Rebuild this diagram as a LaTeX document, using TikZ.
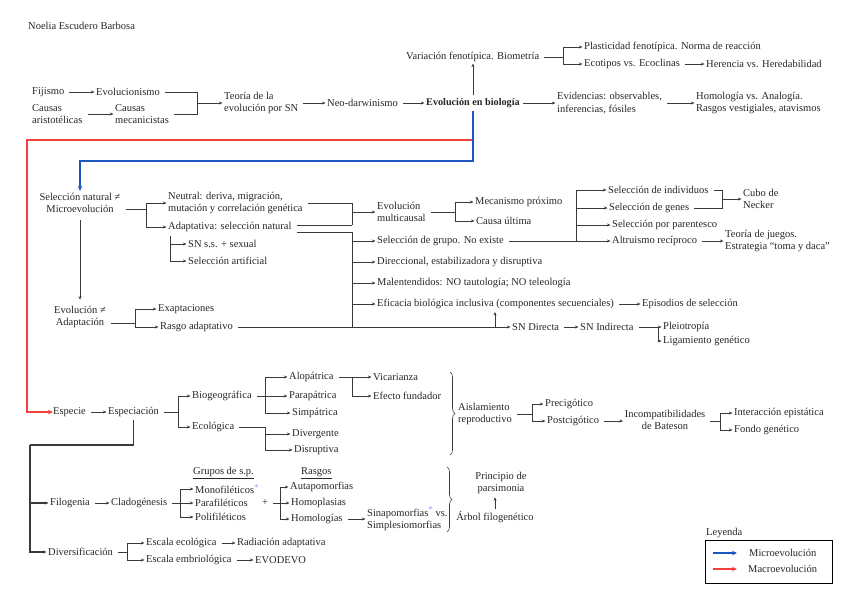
\documentclass[tikz,border=0pt]{standalone}
\usepackage{fontspec}
\setmainfont{Liberation Serif}
\usetikzlibrary{arrows.meta,decorations.pathreplacing,calc}
\definecolor{lc}{HTML}{3A3A3A}
\definecolor{txc}{HTML}{262626}
\definecolor{bl}{HTML}{1F55C0}
\definecolor{rd}{HTML}{F2403F}
\definecolor{stc}{HTML}{A98EF0}
\newcommand{\mystar}{\raisebox{3.5pt}{\fontsize{9}{9}\selectfont\textcolor{stc}{*}}}
\begin{document}
\begin{tikzpicture}[x=1pt,y=-1pt,
  t/.style={anchor=west,inner sep=0pt,text=txc,font=\fontsize{10.5}{12.6}\selectfont,align=left},
  tm/.style={t,anchor=center,align=center},
  ln/.style={draw=lc,line width=0.75pt},
  ar/.style={ln,-{Stealth[length=3.6pt,width=3pt]},shorten >=1.5pt},
  fs/.style={shorten <=5pt},
  lnk/.style={draw=lc,line width=1.1pt},
  blarr/.style={draw=bl,line width=1.5pt,-{Stealth[length=5pt,width=4.5pt]}},
  rdarr/.style={draw=rd,line width=1.5pt,-{Stealth[length=5pt,width=4.5pt]}},
  brc/.style={ln,line width=0.6pt,decorate,decoration={brace,amplitude=5pt}}
]
\useasboundingbox (0,0) rectangle (848,600);

% ---------- top ----------
\node[t] (title) at (28,26) {Noelia Escudero Barbosa};
\node[t] (fij) at (32,92) {Fijismo};
\node[t] (evol) at (96,92) {Evolucionismo};
\node[t] (caus) at (32,114) {Causas\\aristotélicas};
\node[t] (mec) at (115,114) {Causas\\mecanicistas};
\node[t] (teo) at (224,103) {Teoría de la\\evolución por SN};
\node[t] (neo) at (327,103) {Neo-darwinismo};
\node[t,font=\fontsize{10.2}{12}\selectfont\bfseries] (evb) at (426,103) {Evolución en biología};
\node[t] (var) at (406,57) {Variación fenotípica. Biometría};
\node[t] (pla) at (584,47) {Plasticidad fenotípica. Norma de reacción};
\node[t] (eco) at (584,64) {Ecotipos vs. Ecoclinas};
\node[t] (her) at (706,64) {Herencia vs. Heredabilidad};
\node[t] (evi) at (557,103) {Evidencias: observables,\\inferencias, fósiles};
\node[t] (hom) at (696,103) {Homología vs. Analogía.\\Rasgos vestigiales, atavismos};

\draw[ar,fs] (fij.east) -- (fij.east -| evol.west);
\draw[ar,fs] (caus.east) -- (caus.east -| mec.west);
\coordinate (bA) at (197,103);
\draw[ln,fs] (evol.east) -| (bA);
\draw[ln,fs] (mec.east) -| (bA);
\draw[ar] (bA) -- (teo.west);
\draw[ar,fs] (teo.east) -- (neo.west);
\draw[ar,fs] (neo.east) -- (evb.west);
\draw[ar,shorten <=3pt] (evb.north) -- (evb.north |- var.south);
\coordinate (bV) at (563,57);
\draw[ln,fs] (var.east) -- (bV);
\draw[ar] (bV) |- (pla.west);
\draw[ar] (bV) |- (eco.west);
\draw[ar,fs] (eco.east) -- (her.west);
\draw[ar,shorten <=3pt] (evb.east) -- (evi.west);
\draw[ar,fs] (evi.east) -- (hom.west);

% ---------- micro section ----------
\node[tm] (sel) at (80,203) {Selección natural ≠\\Microevolución};
\node[t] (neu) at (168,203) {Neutral: deriva, migración,\\mutación y correlación genética};
\node[t] (ada) at (168,227) {Adaptativa: selección natural};
\node[t] (sns) at (188,244) {SN s.s. + sexual};
\node[t] (sart) at (188,261) {Selección artificial};
\node[tm] (eva) at (80,317) {Evolución ≠\\Adaptación};
\node[t] (exa) at (158,309) {Exaptaciones};
\node[t] (ras) at (160,327) {Rasgo adaptativo};
\node[t] (mul) at (377,212) {Evolución\\multicausal};
\node[t] (mpr) at (475,202) {Mecanismo próximo};
\node[t] (cul) at (476,221) {Causa última};
\node[t] (sgr) at (377,241) {Selección de grupo. No existe};
\node[t] (dir) at (377,262) {Direccional, estabilizadora y disruptiva};
\node[t] (mal) at (377,283) {Malentendidos: NO tautología; NO teleología};
\node[t] (efi) at (377,304) {Eficacia biológica inclusiva (componentes secuenciales)};
\node[t] (epi) at (642,304) {Episodios de selección};
\node[t] (snd) at (512,327) {SN Directa};
\node[t] (sni) at (580,327) {SN Indirecta};
\node[t] (ple) at (663,327) {Pleiotropía};
\node[t] (lig) at (663,341) {Ligamiento genético};
\node[t] (sind) at (608,190) {Selección de individuos};
\node[t] (sgen) at (609,208) {Selección de genes};
\node[t] (spar) at (612,225) {Selección por parentesco};
\node[t] (alt) at (612,241) {Altruismo recíproco};
\node[t] (cub) at (743,199) {Cubo de\\Necker};
\node[t] (tju) at (725,241) {Teoría de juegos.\\Estrategia “toma y daca”};

\coordinate (bS) at (146,209);
\draw[ln,fs] ([yshift=-6pt]sel.east) -- (bS);
\draw[ar] (bS) |- (neu.west);
\draw[ar] (bS) |- (ada.west);
\coordinate (bSS) at (170,236);
\draw[ar] (bSS) |- (sns.west);
\draw[ar] (bSS) |- (sart.west);
\draw[ar,shorten <=7pt,shorten >=6pt] (sel.south) -- (eva.north);
\coordinate (bE) at (135,323);
\draw[ln,fs] ([yshift=-6pt]eva.east) -- (bE);
\draw[ar] (bE) |- (exa.west);
\draw[ar] (bE) |- (ras.west);
\draw[ar,fs] (ras.east) -- (snd.west);

\coordinate (bN1) at (352,225);
\draw[ln,fs] (neu.east) -| (bN1);
\draw[ln,fs] ([yshift=2pt]ada.east) -- (bN1);
\draw[ar] (bN1 |- mul.west) -- (mul.west);
\coordinate (bA1) at (352,232);
\coordinate (bA2) at (352,327);
\draw[ln,fs] ([yshift=-5pt]ada.east) -- (bA1) -- (bA2);
\draw[ar] (bA1 |- sgr.west) -- (sgr.west);
\draw[ar] (bA1 |- dir.west) -- (dir.west);
\draw[ar] (bA1 |- mal.west) -- (mal.west);
\draw[ar] (bA1 |- efi.west) -- (efi.west);
\coordinate (up) at (495,327);
\draw[ar,shorten >=3pt] (up) -- (up |- efi.south);

\coordinate (bM) at (455,212);
\draw[ln,fs] (mul.east) -- (bM);
\draw[ar] (bM) |- (mpr.west);
\draw[ar] (bM) |- (cul.west);
\coordinate (bG) at (576,241);
\draw[ln,fs] (sgr.east) -- (bG);
\draw[ar] (bG) |- (sind.west);
\draw[ar] (bG) |- (sgen.west);
\draw[ar] (bG) |- (spar.west);
\draw[ar] (bG) -- (alt.west);
\coordinate (bC) at (722,199);
\draw[ln,fs] (sind.east) -| (bC);
\draw[ln,fs] (sgen.east) -| (bC);
\draw[ar] (bC) -- (bC -| cub.west);
\draw[ar,fs] (alt.east) -- (alt.east -| tju.west);
\draw[ar,fs] (efi.east) -- (epi.west);
\draw[ar,fs] (snd.east) -- (sni.west);
\coordinate (bP) at (658,327);
\draw[ln,fs] (sni.east) -- (bP);
\draw[ar] (bP) |- (ple.west);
\draw[ar] (bP) |- (lig.west);

% ---------- macro section ----------
\node[t] (esp) at (53,412) {Especie};
\node[t] (espc) at (108,412) {Especiación};
\node[t] (bio) at (192,396) {Biogeográfica};
\node[t] (ecl) at (192,427) {Ecológica};
\node[t] (alo) at (289,377) {Alopátrica};
\node[t] (par) at (289,396) {Parapátrica};
\node[t] (sim) at (292,413) {Simpátrica};
\node[t] (dvg) at (292,434) {Divergente};
\node[t] (dsr) at (294,450) {Disruptiva};
\node[t] (vic) at (373,377) {Vicarianza};
\node[t] (efe) at (373,396) {Efecto fundador};
\node[t] (ais) at (458,414) {Aislamiento\\reproductivo};
\node[t] (pre) at (545,404) {Precigótico};
\node[t] (pos) at (547,421) {Postcigótico};
\node[tm] (inc) at (665,420) {Incompatibilidades\\de Bateson};
\node[t] (int) at (734,413) {Interacción epistática};
\node[t] (fon) at (734,430) {Fondo genético};

\draw[ar,fs] (esp.east) -- (espc.west);
\coordinate (bE1) at (178,412);
\draw[ln,fs] (espc.east) -- (bE1);
\draw[ar] (bE1) |- (bio.west);
\draw[ar] (bE1) |- (ecl.west);
\coordinate (bB) at (265,396);
\draw[ln,fs] (bio.east) -- (bB);
\draw[ar] (bB) |- (alo.west);
\draw[ar] (bB) -- (par.west);
\draw[ar] (bB) |- (sim.west);
\coordinate (bEc) at (265,427);
\draw[ln,fs] (ecl.east) -- (bEc);
\draw[ar] (bEc) |- (dvg.west);
\draw[ar] (bEc) |- (dsr.west);
\coordinate (bAl) at (352,377);
\draw[ln,fs] (alo.east) -- (bAl);
\draw[ar] (bAl) -- (vic.west);
\draw[ar] (bAl) |- (efe.west);
\coordinate (br1a) at (450,372);
\coordinate (br1b) at (450,455);
\draw[brc] (br1a) -- (br1b);
\coordinate (bAi) at (532,414);
\draw[ln,fs] (ais.east) -- (bAi);
\draw[ar] (bAi) |- (pre.west);
\draw[ar] (bAi) |- (pos.west);
\draw[ar,fs] (pos.east) -- (pos.east -| inc.west);
\coordinate (bI) at (720,421);
\draw[ln,fs] (inc.east |- bI) -- (bI);
\draw[ar] (bI) |- (int.west);
\draw[ar] (bI) |- (fon.west);

\node[t] (fil) at (50,503) {Filogenia};
\node[t] (cla) at (111,503) {Cladogénesis};
\node[t] (gru) at (193,473) {\underline{Grupos de s.p.}};
\node[t] (mon) at (195,489) {Monofiléticos\mystar};
\node[t] (pfi) at (195,503) {Parafiléticos};
\node[t] (pol) at (195,517) {Polifiléticos};
\node[t] (plu) at (262,503) {+};
\node[t] (rsg) at (301,473) {\underline{Rasgos}};
\node[t] (aut) at (290,487) {Autapomorfias};
\node[t] (hpl) at (291,503) {Homoplasias};
\node[t] (hlg) at (291,519) {Homologías};
\node[t] (sin) at (367,519) {Sinapomorfias\mystar{} vs.\\Simplesiomorfias};
\node[tm] (pri) at (501,483) {Principio de\\parsimonia};
\node[tm] (arb) at (495,517) {Árbol filogenético};
\node[t] (div) at (48,552) {Diversificación};
\node[t] (eec) at (146,543) {Escala ecológica};
\node[t] (rad) at (237,543) {Radiación adaptativa};
\node[t] (eem) at (146,560) {Escala embriológica};
\node[t] (evo) at (255,560) {EVODEVO};

\coordinate (k2) at (30,445);
\draw[lnk,shorten <=3pt] (espc.south) |- (k2);
\draw[lnk,-{Stealth[length=3.6pt,width=3pt]},shorten >=1.5pt] (k2) |- (fil.west);
\draw[lnk,-{Stealth[length=3.6pt,width=3pt]},shorten >=1.5pt] (k2) |- (div.west);
\draw[ar,fs] (fil.east) -- (cla.west);
\coordinate (bCl) at (180,503);
\draw[ln,fs] (cla.east) -- (bCl);
\draw[ar] (bCl) |- (mon.west);
\draw[ar] (bCl) -- (pfi.west);
\draw[ar] (bCl) |- (pol.west);
\coordinate (bR) at (280,503);
\draw[ln,fs] (plu.east) -- (bR);
\draw[ar] (bR) |- (aut.west);
\draw[ar] (bR) -- (hpl.west);
\draw[ar] (bR) |- (hlg.west);
\draw[ar,fs] (hlg.east) -- (hlg.east -| sin.west);
\coordinate (br2a) at (447,467);
\coordinate (br2b) at (447,532);
\draw[brc] (br2a) -- (br2b);
\draw[ar,shorten <=2pt,shorten >=3pt] (arb.north) -- (arb.north |- pri.south);
\coordinate (bD) at (127,552);
\draw[ln,fs] (div.east) -- (bD);
\draw[ar] (bD) |- (eec.west);
\draw[ar] (bD) |- (eem.west);
\draw[ar,fs] (eec.east) -- (rad.west);
\draw[ar,fs] (eem.east) -- (evo.west);

% ---------- coloured connectors ----------
\coordinate (rL) at (27,140);
\draw[rdarr] (evb.south |- rL) -- (rL) |- (esp.west);
\coordinate (cB) at (80,161);
\draw[blarr,shorten <=3pt,shorten >=2pt] (evb.south) |- (cB) -- (sel.north);

% ---------- legend ----------
\node[t] (ley) at (706,533) {Leyenda};
\draw[draw=black,line width=1pt] (705,540) rectangle (832,583);
\coordinate (lb1) at (713,553);
\coordinate (lb2) at (737,553);
\coordinate (lr1) at (713,569);
\coordinate (lr2) at (737,569);
\draw[blarr] (lb1) -- (lb2);
\draw[rdarr] (lr1) -- (lr2);
\node[t] (mic) at (749,553) {Microevolución};
\node[t] (mac) at (748,569) {Macroevolución};
\end{tikzpicture}
\end{document}
